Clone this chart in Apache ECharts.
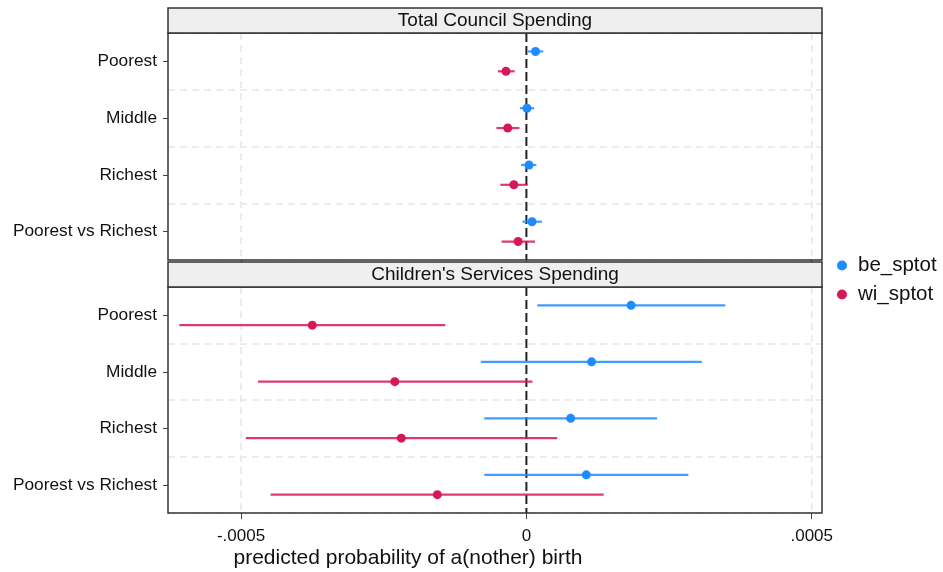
<!DOCTYPE html>
<html>
<head>
<meta charset="utf-8">
<script src="https://cdn.jsdelivr.net/npm/echarts@6/dist/echarts.min.js"></script>
<style>
  html, body { margin: 0; padding: 0; background: #fff; }
  #chart { width: 943px; height: 572px; }
</style>
</head>
<body>
<div id="chart"></div>
<script>
// Comparison groups (rows of each panel, top to bottom)
const categories = ['Poorest', 'Middle', 'Richest', 'Poorest vs Richest'];

// Panel titles
const panelTitles = ['Total Council Spending', "Children's Services Spending"];

// Series names
const seriesNames = ['be_sptot', 'wi_sptot'];

// Total Council Spending: estimates and 95% interval bounds
const totalBeEst = [0.0000160, 0.0000010, 0.0000046, 0.0000099];
const totalBeLo  = [0.0000023, -0.0000114, -0.0000091, -0.0000068];
const totalBeHi  = [0.0000297, 0.0000137, 0.0000175, 0.0000274];
const totalWiEst = [-0.0000358, -0.0000327, -0.0000220, -0.0000145];
const totalWiLo  = [-0.0000500, -0.0000525, -0.0000457, -0.0000434];
const totalWiHi  = [-0.0000205, -0.0000122, 0.0000023, 0.0000152];

// Children's Services Spending: estimates and 95% interval bounds
const childBeEst = [0.0001834, 0.0001142, 0.0000776, 0.0001050];
const childBeLo  = [0.0000190, -0.0000799, -0.0000738, -0.0000738];
const childBeHi  = [0.0003485, 0.0003074, 0.0002290, 0.0002839];
const childWiEst = [-0.0003752, -0.0002306, -0.0002192, -0.0001560];
const childWiLo  = [-0.0006080, -0.0004703, -0.0004916, -0.0004482];
const childWiHi  = [-0.0001423, 0.0000107, 0.0000540, 0.0001355];

// X axis extent and tick values
const xMin = -0.000628;
const xMax = 0.000518;
const xTicks = [-0.0005, 0, 0.0005];
const xTickLabels = ['-.0005', '0', '.0005'];

const BLUE = '#1E8CFF';
const RED = '#D6185A';
const FONT = 'Liberation Sans, Arial, sans-serif';

function rows(lo, est, hi) {
  return categories.map((c, i) => [i, lo[i], est[i], hi[i]]);
}

// One interval + point per row, dodged up or down within the row band
function makeInterval(color, shift) {
  return function (params, api) {
    const cat = api.value(0);
    const a = api.coord([api.value(1), cat]);
    const m = api.coord([api.value(2), cat]);
    const b = api.coord([api.value(3), cat]);
    const dy = api.size([0, 1])[1] * shift;
    return {
      type: 'group',
      children: [
        { type: 'line', shape: { x1: a[0], y1: a[1] + dy, x2: b[0], y2: b[1] + dy },
          style: { stroke: color, lineWidth: 2.2, opacity: 0.85 } },
        { type: 'circle', shape: { cx: m[0], cy: m[1] + dy, r: 4.5 },
          style: { fill: color } }
      ]
    };
  };
}

// Vertical reference lines at the x ticks (zero line darker)
function refLines(params, api) {
  const v = api.value(0);
  const cs = params.coordSys;
  const p = api.coord([v, 0]);
  const isZero = v === 0;
  return {
    type: 'line',
    shape: { x1: p[0], y1: cs.y, x2: p[0], y2: cs.y + cs.height },
    style: isZero
      ? { stroke: '#222', lineWidth: 2, lineDash: [9, 4] }
      : { stroke: '#e6e6e6', lineWidth: 1.5, lineDash: [7, 5] }
  };
}

const grids = [
  { left: 168, top: 33, width: 654, height: 227 },
  { left: 168, top: 287, width: 654, height: 226 }
];
const stripH = 25;

const chart = echarts.init(document.getElementById('chart'), null, { renderer: 'canvas' });

const xAxes = grids.map((g, i) => ({
  type: 'value', gridIndex: i, min: xMin, max: xMax,
  splitLine: { show: false },
  axisLine: { show: false, onZero: false },
  axisTick: { show: true, customValues: xTicks, length: 6, lineStyle: { color: '#444', width: 1 } },
  axisLabel: {
    show: i === 1, customValues: xTicks, margin: 15,
    fontFamily: FONT, fontSize: 17, color: '#111',
    formatter: v => xTickLabels[xTicks.findIndex(t => Math.abs(t - v) < 1e-12)] || ''
  }
}));

const yAxes = grids.map((g, i) => ({
  type: 'category', gridIndex: i, data: categories, inverse: true,
  axisLine: { show: false, onZero: false },
  axisTick: { show: true, alignWithLabel: true, length: 5, lineStyle: { color: '#444' } },
  axisLabel: { margin: 11, fontFamily: FONT, fontSize: 17.3, color: '#111', padding: [3, 0, 0, 0] },
  splitLine: { show: true, lineStyle: { color: '#e6e6e6', width: 1.5, type: [7, 5] } }
}));

const series = [];
const panels = [
  [[totalBeLo, totalBeEst, totalBeHi], [totalWiLo, totalWiEst, totalWiHi]],
  [[childBeLo, childBeEst, childBeHi], [childWiLo, childWiEst, childWiHi]]
];
panels.forEach((p, i) => {
  series.push({
    type: 'custom', name: '_ref' + i, xAxisIndex: i, yAxisIndex: i, z: 1,
    silent: true, encode: { x: 0 },
    data: xTicks.map(v => [v]), renderItem: refLines
  });
  series.push({
    type: 'custom', name: seriesNames[0], xAxisIndex: i, yAxisIndex: i, z: 5,
    encode: { x: [1, 2, 3], y: 0 }, itemStyle: { color: BLUE },
    data: rows(p[0][0], p[0][1], p[0][2]), renderItem: makeInterval(BLUE, -0.175)
  });
  series.push({
    type: 'custom', name: seriesNames[1], xAxisIndex: i, yAxisIndex: i, z: 5,
    encode: { x: [1, 2, 3], y: 0 }, itemStyle: { color: RED },
    data: rows(p[1][0], p[1][1], p[1][2]), renderItem: makeInterval(RED, 0.175)
  });
});

// Panel frames, strips and titles
const graphics = [];
grids.forEach((g, i) => {
  graphics.push({
    type: 'rect', z: 10, silent: true,
    shape: { x: g.left, y: g.top, width: g.width, height: g.height },
    style: { fill: null, stroke: '#333', lineWidth: 1.5 }
  });
  graphics.push({
    type: 'rect', z: 10,
    shape: { x: g.left, y: g.top - stripH, width: g.width, height: stripH },
    style: { fill: '#efefef', stroke: '#333', lineWidth: 1.5 }
  });
  graphics.push({
    type: 'text', z: 11,
    x: g.left + g.width / 2, y: g.top - stripH / 2 + 0.5,
    style: { text: panelTitles[i], fontFamily: FONT, fontSize: 19, fill: '#111',
             align: 'center', verticalAlign: 'middle' }
  });
});
graphics.push({
  type: 'text', z: 11, x: 408, y: 558,
  style: { text: 'predicted probability of a(nother) birth', fontFamily: FONT, fontSize: 21,
           fill: '#111', align: 'center', verticalAlign: 'middle' }
});

chart.setOption({
  animation: false,
  backgroundColor: '#fff',
  grid: grids.map(g => Object.assign({ show: false }, g)),
  xAxis: xAxes,
  yAxis: yAxes,
  legend: {
    data: seriesNames.map(n => ({ name: n, icon: 'circle' })),
    orient: 'vertical', left: 832, top: 250,
    itemWidth: 10, itemHeight: 10, itemGap: 8,
    textStyle: { fontFamily: FONT, fontSize: 20.5, color: '#111', padding: [0, 0, 0, 6] }
  },
  graphic: graphics,
  series: series
});
</script>
</body>
</html>
